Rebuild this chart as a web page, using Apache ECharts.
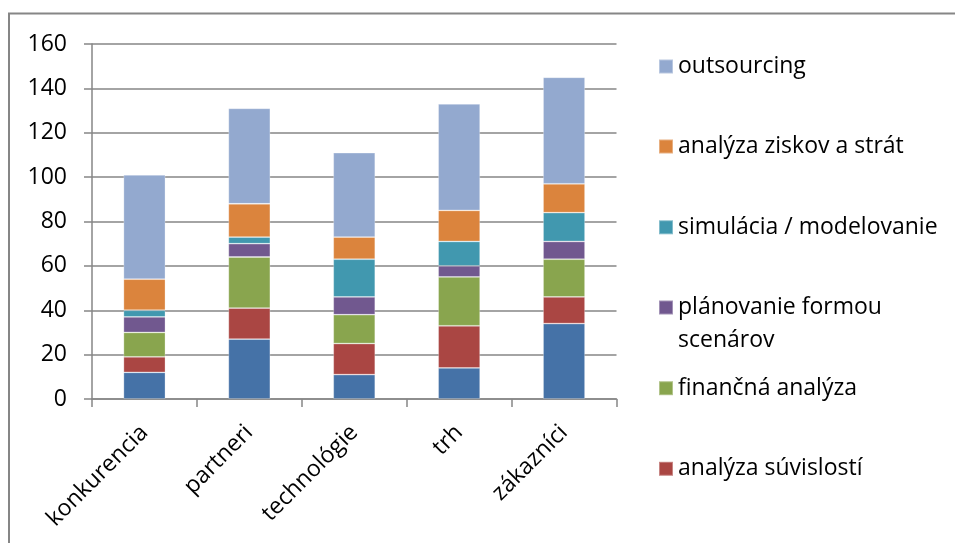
<!DOCTYPE html>
<html>
<head>
<meta charset="utf-8">
<script src="https://cdn.jsdelivr.net/npm/echarts@6/dist/echarts.min.js"></script>
<style>
  html, body { margin: 0; padding: 0; background: #fff; }
  #app { width: 955px; height: 543px; }
</style>
</head>
<body>
<div id="app"></div>
<script>
var categories = ['konkurencia', 'partneri', 'technológie', 'trh', 'zákazníci'];
var yTicks = [0, 20, 40, 60, 80, 100, 120, 140, 160];

// bottom series - its legend entry is cut off in the picture
var baseValues = [12, 27, 11, 14, 34];
var suvislostiValues = [7, 14, 14, 19, 12];
var financnaValues = [11, 23, 13, 22, 17];
var planovanieValues = [7, 6, 8, 5, 8];
var simulaciaValues = [3, 3, 17, 11, 13];
var ziskovValues = [14, 15, 10, 14, 13];
var outsourcingValues = [47, 43, 38, 48, 48];

var seriesNames = ['', 'analýza súvislostí', 'finančná analýza', 'plánovanie formou scenárov',
  'simulácia / modelovanie', 'analýza ziskov a strát', 'outsourcing'];
var seriesData = [baseValues, suvislostiValues, financnaValues, planovanieValues,
  simulaciaValues, ziskovValues, outsourcingValues];
var colors = ['#4572A7', '#AA4643', '#89A54E', '#71588F', '#4198AF', '#DB843D', '#93A9CF'];

var font = '"Open Sans", sans-serif';
var gridColor = '#868686';

window.onload = function () {
  var myChart = echarts.init(document.getElementById('app'));

  var series = [];
  for (var i = 0; i < seriesData.length; i++) {
    series.push({
      name: seriesNames[i] || 'séria 1',
      type: 'bar',
      stack: 'total',
      barWidth: '40%',
      data: seriesData[i],
      itemStyle: {
        color: colors[i],
        borderColor: 'rgba(255,255,255,0.35)',
        borderWidth: 0.8
      }
    });
  }

  // legend: one block per entry, so the uneven spacing of the original can be kept
  var legendTops = {
    'outsourcing': 52.5,
    'analýza ziskov a strát': 132.5,
    'simulácia / modelovanie': 213.3,
    'finančná analýza': 374.2,
    'analýza súvislostí': 454.8
  };
  var legends = [];
  Object.keys(legendTops).forEach(function (name) {
    legends.push({
      data: [name],
      left: 658,
      top: legendTops[name],
      padding: 0,
      itemWidth: 14,
      itemHeight: 14,
      icon: 'rect',
      selectedMode: false,
      textStyle: {fontFamily: font, fontSize: 23, color: '#000', lineHeight: 28}
    });
  });
  // two-line entry: a blank first line keeps the icon level with "plánovanie formou"
  legends.push({
    data: ['plánovanie formou scenárov'],
    left: 658,
    top: 258,
    padding: 0,
    itemWidth: 14,
    itemHeight: 14,
    icon: 'rect',
    selectedMode: false,
    formatter: function () { return ' \nplánovanie formou\nscenárov'; },
    textStyle: {fontFamily: font, fontSize: 23, color: '#000', lineHeight: 33}
  });

  myChart.setOption({
    backgroundColor: '#fff',
    animation: false,
    color: colors,
    graphic: [{
      type: 'rect',
      shape: {x: 9, y: 13.5, width: 2000, height: 2000},
      style: {fill: 'none', stroke: gridColor, lineWidth: 2},
      silent: true
    }],
    legend: legends,
    grid: {left: 92, right: 338.5, top: 44, bottom: 144},
    xAxis: {
      type: 'category',
      data: categories,
      axisLine: {lineStyle: {color: gridColor, width: 1.5}},
      axisTick: {show: true, length: 8, lineStyle: {color: gridColor, width: 1.5}},
      axisLabel: {
        rotate: 45,
        interval: 0,
        margin: 30,
        fontFamily: font,
        fontSize: 23,
        color: '#000'
      }
    },
    yAxis: {
      type: 'value',
      min: yTicks[0],
      max: yTicks[yTicks.length - 1],
      interval: 20,
      axisLine: {show: true, lineStyle: {color: gridColor, width: 1.5}},
      axisTick: {show: true, length: 8, lineStyle: {color: gridColor, width: 1.5}},
      splitLine: {show: true, lineStyle: {color: gridColor, width: 1.5}},
      axisLabel: {margin: 25, fontFamily: font, fontSize: 23, color: '#000'}
    },
    series: series
  });
};
</script>
</body>
</html>
